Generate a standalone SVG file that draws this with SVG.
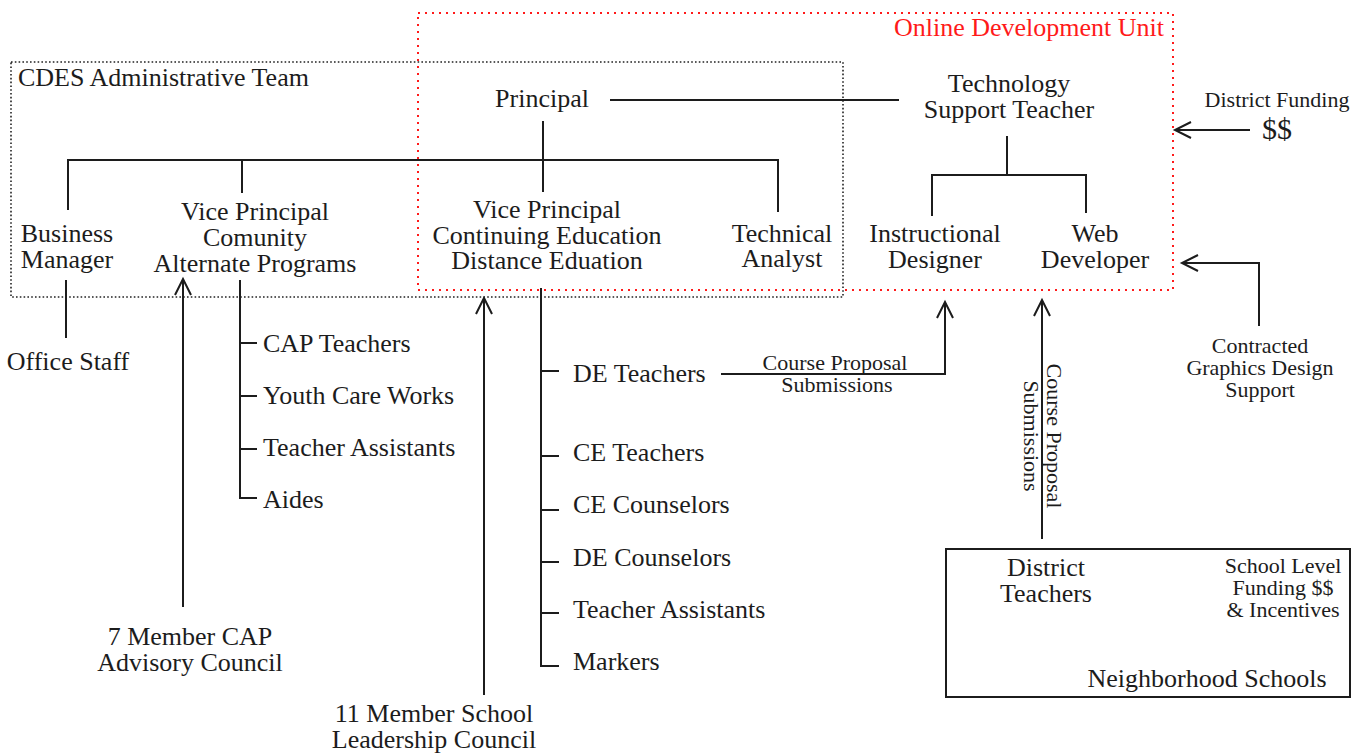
<svg xmlns="http://www.w3.org/2000/svg" width="1372" height="754" viewBox="0 0 1372 754">
  <style>
    text { font-family: "Liberation Serif", "Times New Roman", serif; fill: #1c1c1c; }
    .t { font-size: 26px; }
    .s { font-size: 22px; }
    .c { text-anchor: middle; }
    .line { fill: none; stroke: #1c1c1c; stroke-width: 2; }
    .arrow { fill: none; stroke: #1c1c1c; stroke-width: 2; marker-end: url(#open-arrow); }
    .team { fill: none; stroke: #222; stroke-width: 1.6; stroke-dasharray: 1.6 2.2; }
    .unit { fill: none; stroke: #ff1a1a; stroke-width: 2; stroke-dasharray: 2 5; }
  </style>
  <defs>
    <marker id="open-arrow" markerUnits="userSpaceOnUse" viewBox="-18 -10 20 20" markerWidth="20" markerHeight="20" refX="0" refY="0" orient="auto" overflow="visible">
      <path d="M-16,-8 L0,0 L-16,8" fill="none" stroke="#1c1c1c" stroke-width="2"/>
    </marker>
  </defs>
  <rect width="1372" height="754" fill="#ffffff"/>

  <!-- grouping frames -->
  <g id="admin-team">
    <rect class="team" x="11" y="62" width="832" height="235"/>
    <text class="t" x="18" y="86">CDES Administrative Team</text>
  </g>
  <g id="online-unit">
    <rect class="unit" x="418" y="13" width="755" height="277"/>
    <text class="t" x="1164" y="36" text-anchor="end" style="fill:#ff1a1a">Online Development Unit</text>
  </g>

  <!-- connectors -->
  <g id="connectors">
    <path class="line" d="M610 100 H899"/>
    <path class="line" d="M543 121 V192"/>
    <path class="line" d="M68 210 V160 H778 V212"/>
    <path class="line" d="M242 160 V193"/>
    <path class="line" d="M1007 136 V175"/>
    <path class="line" d="M932 216 V175 H1086 V213"/>
    <path class="line" d="M66 280 V338"/>
    <path class="line" d="M240 280 V498 H257 M240 343 H257 M240 396 H257 M240 449 H257"/>
    <path class="line" d="M541 288 V666 H559 M541 371 H559 M541 456 H559 M541 510 H559 M541 562 H559 M541 613 H559"/>
    <path class="arrow" d="M183 607 V279"/>
    <path class="arrow" d="M484 695 V298"/>
    <path class="arrow" d="M721 374 H945 V302"/>
    <path class="arrow" d="M1042 539 V300"/>
    <path class="arrow" d="M1250 130 H1175"/>
    <path class="arrow" d="M1259 326 V263 H1182"/>
  </g>

  <!-- nodes -->
  <g id="principal"><text class="t c" x="542" y="107">Principal</text></g>
  <g id="tech-support-teacher">
    <text class="t c" x="1009" y="92">Technology</text>
    <text class="t c" x="1009" y="118">Support Teacher</text>
  </g>
  <g id="business-manager">
    <text class="t c" x="67" y="242">Business</text>
    <text class="t c" x="67" y="268">Manager</text>
  </g>
  <g id="vp-community">
    <text class="t c" x="255" y="220">Vice Principal</text>
    <text class="t c" x="255" y="246">Comunity</text>
    <text class="t c" x="255" y="272">Alternate Programs</text>
  </g>
  <g id="vp-continuing">
    <text class="t c" x="547" y="218">Vice Principal</text>
    <text class="t c" x="547" y="244">Continuing Education</text>
    <text class="t c" x="547" y="269">Distance Eduation</text>
  </g>
  <g id="technical-analyst">
    <text class="t c" x="782" y="242">Technical</text>
    <text class="t c" x="782" y="267">Analyst</text>
  </g>
  <g id="instructional-designer">
    <text class="t c" x="935" y="242">Instructional</text>
    <text class="t c" x="935" y="268">Designer</text>
  </g>
  <g id="web-developer">
    <text class="t c" x="1095" y="242">Web</text>
    <text class="t c" x="1095" y="268">Developer</text>
  </g>
  <g id="district-funding">
    <text class="s c" x="1277" y="107">District Funding</text>
    <text class="c" x="1277" y="139" style="font-size:30px">$$</text>
  </g>
  <g id="graphics-support">
    <text class="s c" x="1260" y="353">Contracted</text>
    <text class="s c" x="1260" y="375">Graphics Design</text>
    <text class="s c" x="1260" y="397">Support</text>
  </g>
  <g id="office-staff"><text class="t c" x="68" y="370">Office Staff</text></g>
  <g id="cap-staff">
    <text class="t" x="263" y="352">CAP Teachers</text>
    <text class="t" x="263" y="404">Youth Care Works</text>
    <text class="t" x="263" y="456">Teacher Assistants</text>
    <text class="t" x="263" y="508">Aides</text>
  </g>
  <g id="de-ce-staff">
    <text class="t" x="573" y="382">DE Teachers</text>
    <text class="t" x="573" y="461">CE Teachers</text>
    <text class="t" x="573" y="513">CE Counselors</text>
    <text class="t" x="573" y="566">DE Counselors</text>
    <text class="t" x="573" y="618">Teacher Assistants</text>
    <text class="t" x="573" y="670">Markers</text>
  </g>
  <g id="proposal-label-h">
    <text class="s c" x="835" y="370">Course Proposal</text>
    <text class="s c" x="837" y="392">Submissions</text>
  </g>
  <g id="proposal-label-v" transform="translate(1047,436) rotate(90)">
    <text class="s c" x="0" y="0">Course Proposal</text>
    <text class="s c" x="0" y="23">Submissions</text>
  </g>
  <g id="cap-advisory">
    <text class="t c" x="190" y="645">7 Member CAP</text>
    <text class="t c" x="190" y="671">Advisory Council</text>
  </g>
  <g id="leadership-council">
    <text class="t c" x="434" y="722">11 Member School</text>
    <text class="t c" x="434" y="748">Leadership Council</text>
  </g>
  <g id="neighborhood-schools">
    <rect x="946" y="549" width="404" height="148" fill="none" stroke="#1c1c1c" stroke-width="2"/>
    <text class="t c" x="1046" y="576">District</text>
    <text class="t c" x="1046" y="602">Teachers</text>
    <text class="s c" x="1283" y="573">School Level</text>
    <text class="s c" x="1283" y="595">Funding $$</text>
    <text class="s c" x="1283" y="617">&amp; Incentives</text>
    <text class="t c" x="1207" y="687">Neighborhood Schools</text>
  </g>
</svg>
